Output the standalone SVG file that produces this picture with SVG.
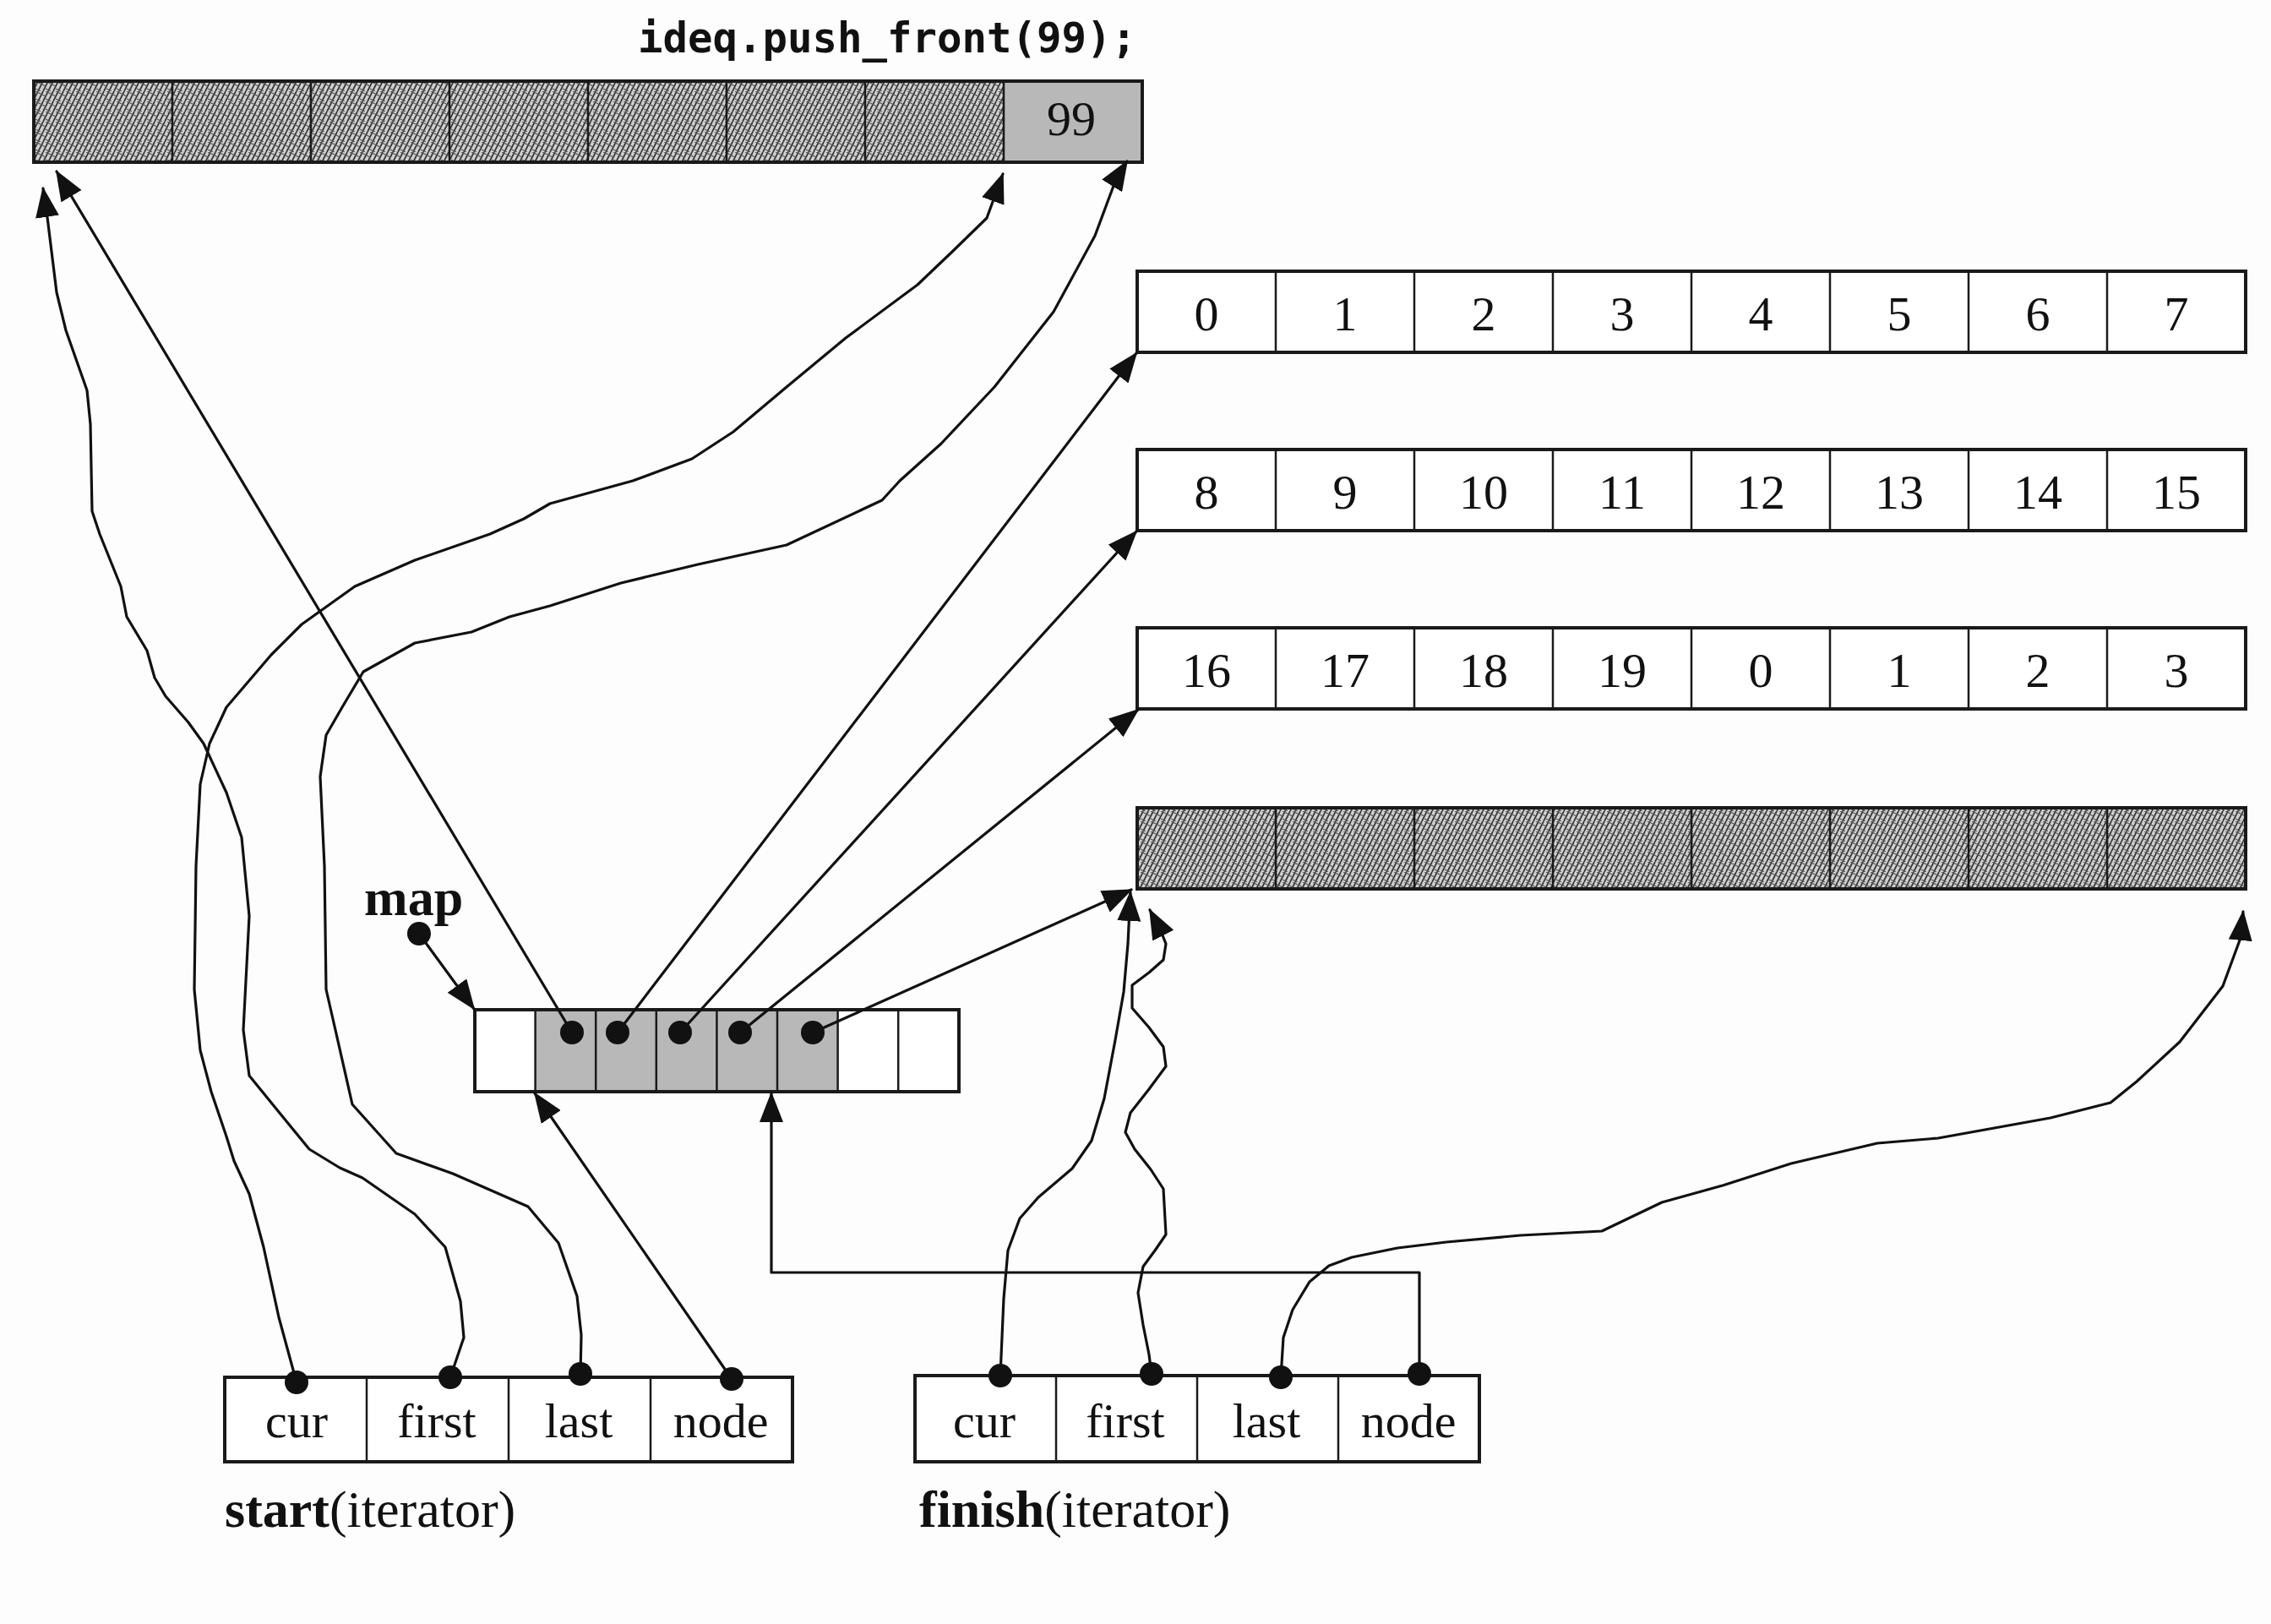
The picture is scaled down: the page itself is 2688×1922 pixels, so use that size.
<svg xmlns="http://www.w3.org/2000/svg" width="2688" height="1922" viewBox="0 0 2688 1922">
<defs>
<pattern id="hatch" patternUnits="userSpaceOnUse" width="12" height="12">
<rect width="12" height="12" fill="#d0d0d0"/>
<path d="M-3,12 L3,0 M3,12 L9,0 M9,12 L15,0" stroke="#333" stroke-width="1.7"/>
<path d="M0,3 L6,6 M6,9 L12,12 M6,0 L12,3" stroke="#555" stroke-width="1.2"/>
</pattern>
<marker id="ah" markerUnits="userSpaceOnUse" markerWidth="36" markerHeight="28" refX="34" refY="14" orient="auto">
<path d="M0,0 L36,14 L0,28 z" fill="#111"/>
</marker>
<style>
.box{fill:none;stroke:#1a1a1a;stroke-width:4}
.div{stroke:#1a1a1a;stroke-width:2.5}
.cell{fill:#fff}
.hat{fill:url(#hatch)}
.gray{fill:#b8b8b8}
.num{font-family:"Liberation Serif","Times New Roman",serif;font-size:58px;fill:#111;text-anchor:middle}
.lab{font-family:"Liberation Serif","Times New Roman",serif;font-size:58px;fill:#111;text-anchor:middle}
.cap{font-family:"Liberation Serif","Times New Roman",serif;font-size:62px;fill:#111}
.code{font-family:"DejaVu Sans Mono",monospace;font-weight:bold;font-size:49px;fill:#111}
.con{fill:none;stroke:#111;stroke-width:3.2;stroke-linejoin:round;stroke-linecap:round}
.arr{marker-end:url(#ah)}
.dot{fill:#111}
</style>
</defs>
<rect width="2688" height="1922" fill="#fdfdfd"/>

<text class="code" x="755" y="62">ideq.push_front(99);</text>

<g id="buffer-top">
<rect x="40" y="96" width="1148" height="96" class="hat"/>
<rect x="1188" y="96" width="164" height="96" class="gray"/>
<path class="div" d="M204,96V192M368,96V192M532,96V192M696,96V192M860,96V192M1024,96V192M1188,96V192"/>
<rect x="40" y="96" width="1312" height="96" class="box"/>
<text class="num" x="1268" y="160" font-size="56">99</text>
</g>

<g id="buffer-0">
<rect x="1346" y="321" width="1312" height="96" class="cell"/>
<path class="div" d="M1510,321v96M1674,321v96M1838,321v96M2002,321v96M2166,321v96M2330,321v96M2494,321v96"/>
<rect x="1346" y="321" width="1312" height="96" class="box"/>
<text class="num" x="1428" y="391">0</text><text class="num" x="1592" y="391">1</text><text class="num" x="1756" y="391">2</text><text class="num" x="1920" y="391">3</text><text class="num" x="2084" y="391">4</text><text class="num" x="2248" y="391">5</text><text class="num" x="2412" y="391">6</text><text class="num" x="2576" y="391">7</text>
</g>

<g id="buffer-1">
<rect x="1346" y="532" width="1312" height="96" class="cell"/>
<path class="div" d="M1510,532v96M1674,532v96M1838,532v96M2002,532v96M2166,532v96M2330,532v96M2494,532v96"/>
<rect x="1346" y="532" width="1312" height="96" class="box"/>
<text class="num" x="1428" y="602">8</text><text class="num" x="1592" y="602">9</text><text class="num" x="1756" y="602">10</text><text class="num" x="1920" y="602">11</text><text class="num" x="2084" y="602">12</text><text class="num" x="2248" y="602">13</text><text class="num" x="2412" y="602">14</text><text class="num" x="2576" y="602">15</text>
</g>

<g id="buffer-2">
<rect x="1346" y="743" width="1312" height="96" class="cell"/>
<path class="div" d="M1510,743v96M1674,743v96M1838,743v96M2002,743v96M2166,743v96M2330,743v96M2494,743v96"/>
<rect x="1346" y="743" width="1312" height="96" class="box"/>
<text class="num" x="1428" y="813">16</text><text class="num" x="1592" y="813">17</text><text class="num" x="1756" y="813">18</text><text class="num" x="1920" y="813">19</text><text class="num" x="2084" y="813">0</text><text class="num" x="2248" y="813">1</text><text class="num" x="2412" y="813">2</text><text class="num" x="2576" y="813">3</text>
</g>

<g id="buffer-3">
<rect x="1346" y="956" width="1312" height="96" class="hat"/>
<path class="div" d="M1510,956v96M1674,956v96M1838,956v96M2002,956v96M2166,956v96M2330,956v96M2494,956v96"/>
<rect x="1346" y="956" width="1312" height="96" class="box"/>
</g>

<g id="map">
<text class="cap" x="431" y="1083" font-weight="bold" font-size="58">map</text>
<rect x="562" y="1195" width="573" height="97" class="cell"/>
<rect x="633.6" y="1195" width="358" height="97" class="gray"/>
<path class="div" d="M633.6,1195v97M705.2,1195v97M776.8,1195v97M848.4,1195v97M920,1195v97M991.6,1195v97M1063.2,1195v97"/>
<rect x="562" y="1195" width="573" height="97" class="box" stroke-width="3"/>
<circle class="dot" cx="496" cy="1105" r="14"/>
<circle class="dot" cx="677" cy="1222" r="14"/>
<circle class="dot" cx="731" cy="1222" r="14"/>
<circle class="dot" cx="805" cy="1222" r="14"/>
<circle class="dot" cx="876" cy="1222" r="14"/>
<circle class="dot" cx="962" cy="1222" r="14"/>
</g>

<g id="start">
<rect x="266" y="1630" width="672" height="100" class="cell"/>
<path class="div" d="M434,1630v100M602,1630v100M770,1630v100"/>
<rect x="266" y="1630" width="672" height="100" class="box"/>
<text class="lab" x="351" y="1701">cur</text><text class="lab" x="517" y="1701">first</text><text class="lab" x="685" y="1701">last</text><text class="lab" x="853" y="1701">node</text>
<text class="cap" x="266" y="1807"><tspan font-weight="bold">start</tspan>(iterator)</text>
<circle class="dot" cx="351" cy="1636" r="14"/>
<circle class="dot" cx="533" cy="1630" r="14"/>
<circle class="dot" cx="687" cy="1626" r="14"/>
<circle class="dot" cx="866" cy="1632" r="14"/>
</g>

<g id="finish">
<rect x="1083" y="1628" width="668" height="102" class="cell"/>
<path class="div" d="M1250,1628v102M1417,1628v102M1584,1628v102"/>
<rect x="1083" y="1628" width="668" height="102" class="box"/>
<text class="lab" x="1165" y="1701">cur</text><text class="lab" x="1332" y="1701">first</text><text class="lab" x="1499" y="1701">last</text><text class="lab" x="1667" y="1701">node</text>
<text class="cap" x="1088" y="1807"><tspan font-weight="bold">finish</tspan>(iterator)</text>
<circle class="dot" cx="1184" cy="1628" r="14"/>
<circle class="dot" cx="1363" cy="1626" r="14"/>
<circle class="dot" cx="1516" cy="1630" r="14"/>
<circle class="dot" cx="1680" cy="1626" r="14"/>
</g>

<g id="connectors">
<line class="con arr" x1="496" y1="1105" x2="561" y2="1194"/>
<line class="con arr" x1="677" y1="1222" x2="67" y2="203"/>
<line class="con arr" x1="731" y1="1222" x2="1345" y2="418"/>
<line class="con arr" x1="805" y1="1222" x2="1345" y2="629"/>
<line class="con arr" x1="876" y1="1222" x2="1347" y2="840"/>
<line class="con arr" x1="962" y1="1222" x2="1339" y2="1053"/>
<line class="con arr" x1="866" y1="1632" x2="633" y2="1294"/>
<polyline class="con arr" points="351,1636 330,1559 312,1476 295,1413 277,1374 268,1345 250,1292 237,1243 230,1171 232,1025 237,928 248,880 268,837 321,775 357,739 420,694 491,663 580,632 620,614 651,596 749,569 819,543 868,511 931,458 1001,400 1086,337 1128,297 1168,258 1187,206"/>
<polyline class="con arr" points="533,1630 549,1583 545,1540 527,1476 491,1437 429,1394 402,1382 366,1360 330,1316 295,1273 288,1219 295,1084 286,991 268,938 241,880 223,855 196,824 183,802 174,770 150,730 143,694 118,632 109,605 107,502 103,462 78,391 67,346 56,257 51,223"/>
<polyline class="con arr" points="687,1626 688,1580 683,1534 661,1471 625,1428 536,1389 469,1365 417,1307 397,1219 386,1171 384,1025 379,919 386,870 405,837 430,795 491,761 558,748 603,730 651,717 735,690 826,668 931,645 1044,592 1065,569 1114,525 1177,458 1247,369 1296,279 1321,212 1334,191"/>
<polyline class="con arr" points="1184,1628 1188,1537 1193,1480 1207,1442 1229,1417 1269,1383 1292,1350 1307,1300 1320,1231 1330,1174 1335,1117 1338,1056"/>
<polyline class="con arr" points="1363,1626 1360,1603 1353,1568 1347,1530 1353,1499 1367,1480 1380,1461 1377,1407 1362,1384 1343,1360 1332,1340 1338,1317 1360,1289 1380,1262 1377,1239 1360,1216 1340,1193 1340,1166 1360,1151 1377,1136 1380,1117 1374,1102 1361,1077"/>
<polyline class="con arr" points="1516,1630 1519,1583 1530,1550 1550,1517 1573,1498 1600,1488 1654,1477 1712,1470 1800,1462 1896,1457 1967,1423 2039,1403 2120,1377 2222,1353 2294,1347 2427,1323 2498,1305 2529,1280 2580,1233 2631,1167 2652,1110 2655,1079"/>
<polyline class="con arr" points="1680,1626 1680,1506 913,1506 913,1294"/>
</g>
</svg>
